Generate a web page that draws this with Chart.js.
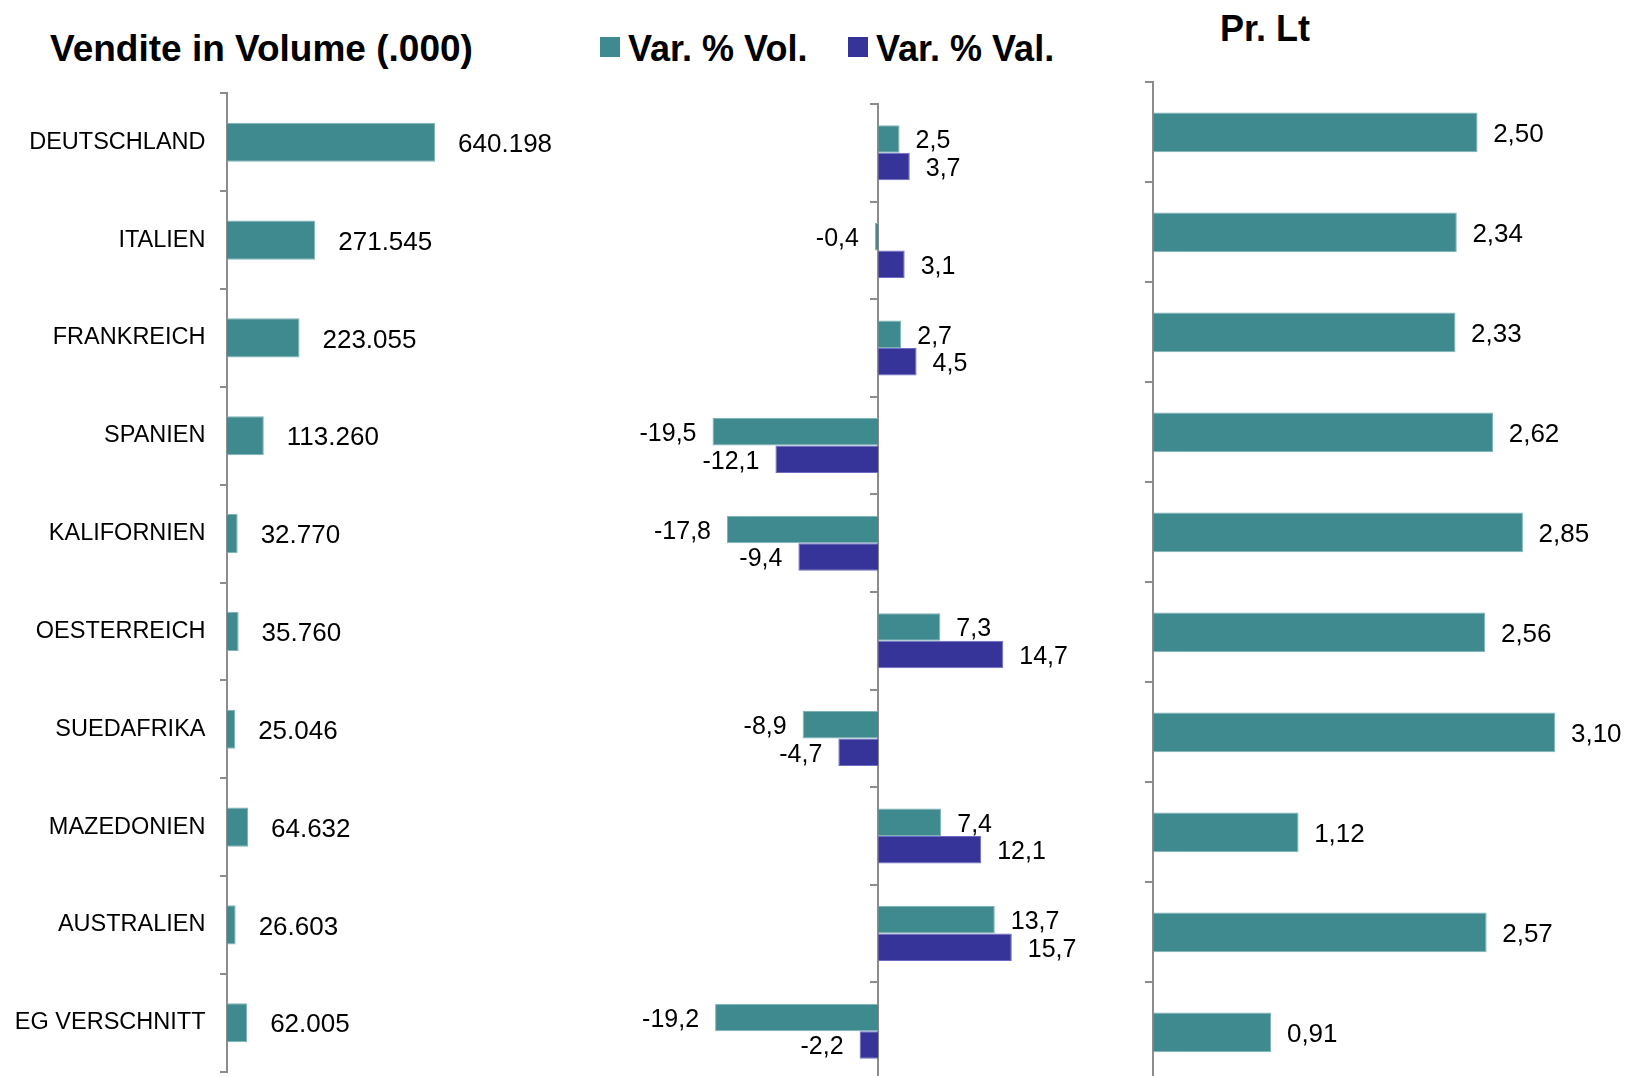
<!DOCTYPE html>
<html lang="it">
<head>
    <meta charset="UTF-8" />
    <title>Vendite in Volume</title>
    <style>
        body {
            margin: 0;
            width: 1625px;
            height: 1076px;
            overflow: hidden;
            position: relative;
            background: #fff;
            font-family: "Liberation Sans", Arial, sans-serif;
            color: #000;
        }
        canvas {
            position: absolute;
            top: 0;
        }
        .head {
            position: absolute;
            font-weight: bold;
            font-size: 36px;
            line-height: 36px;
            white-space: nowrap;
        }
        .swatch {
            position: absolute;
            width: 20px;
            height: 20px;
        }
    </style>
    <script src="https://cdn.jsdelivr.net/npm/chart.js"></script>
</head>
<body>
    <div class="head" style="left:50px; top:31px; font-size:37px;">Vendite in Volume (.000)</div>
    <div class="swatch" id="sw-vol" style="left:600px; top:37px;"></div>
    <div class="head" style="left:628px; top:31px;">Var. % Vol.</div>
    <div class="swatch" id="sw-val" style="left:848px; top:37px;"></div>
    <div class="head" style="left:876px; top:31px;">Var. % Val.</div>
    <div class="head" style="left:1220px; top:11px;">Pr. Lt</div>

    <canvas id="volume" width="620" height="1110" style="left:0px;"></canvas>
    <canvas id="variation" width="522" height="1090" style="left:568px;"></canvas>
    <canvas id="price" width="485" height="1090" style="left:1140px;"></canvas>

    <script>
        // data
        const countries = [
            "DEUTSCHLAND", "ITALIEN", "FRANKREICH", "SPANIEN", "KALIFORNIEN",
            "OESTERREICH", "SUEDAFRIKA", "MAZEDONIEN", "AUSTRALIEN", "EG VERSCHNITT"
        ];
        const volumes = [640198, 271545, 223055, 113260, 32770, 35760, 25046, 64632, 26603, 62005];
        const varVol = [2.5, -0.4, 2.7, -19.5, -17.8, 7.3, -8.9, 7.4, 13.7, -19.2];
        const varVal = [3.7, 3.1, 4.5, -12.1, -9.4, 14.7, -4.7, 12.1, 15.7, -2.2];
        const prLt = [2.50, 2.34, 2.33, 2.62, 2.85, 2.56, 3.10, 1.12, 2.57, 0.91];

        const teal = "#3e8a8f";
        const tealEdge = "#7fb4b7";
        const blue = "#363499";
        const blueEdge = "#6d6bc4";
        const axisGrey = "#8c8c8c";

        document.getElementById("sw-vol").style.background = teal;
        document.getElementById("sw-val").style.background = blue;

        const thousands = (v) => String(v).replace(/\B(?=(\d{3})+(?!\d))/g, ".");
        const decimals = (n) => (v) => v.toFixed(n).replace(".", ",");

        // draws the value next to the end of each bar
        function valueLabels(format, gap, font) {
            return {
                id: "valueLabels",
                afterDatasetsDraw(chart) {
                    const ctx = chart.ctx;
                    ctx.save();
                    ctx.font = font;
                    ctx.fillStyle = "#000";
                    ctx.textBaseline = "middle";
                    chart.data.datasets.forEach((ds, di) => {
                        chart.getDatasetMeta(di).data.forEach((bar, i) => {
                            const v = ds.data[i];
                            const y = bar.y + 2.5;
                            if (v >= 0) {
                                ctx.textAlign = "left";
                                ctx.fillText(format(v), bar.x + gap, y);
                            } else {
                                ctx.textAlign = "right";
                                ctx.fillText(format(v), bar.x - gap, y);
                            }
                        });
                    });
                    ctx.restore();
                },
            };
        }

        function categoryAxis(extra) {
            return Object.assign({
                type: "category",
                offset: true,
                grid: {
                    display: true,
                    drawOnChartArea: false,
                    drawTicks: true,
                    tickLength: 7,
                    color: axisGrey,
                    lineWidth: 2,
                    offset: true,
                },
                border: { display: true, color: axisGrey, width: 2 },
            }, extra);
        }

        Chart.defaults.font.family = "'Liberation Sans', Arial, sans-serif";
        Chart.defaults.color = "#000";

        const common = {
            indexAxis: "y",
            responsive: false,
            animation: false,
            plugins: { legend: { display: false }, tooltip: { enabled: false } },
        };

        // Vendite in Volume
        new Chart(document.getElementById("volume"), {
            type: "bar",
            data: {
                labels: countries,
                datasets: [{
                    label: "Vendite in Volume (.000)",
                    data: volumes,
                    backgroundColor: teal,
                    borderColor: tealEdge,
                    borderWidth: 1,
                    borderSkipped: "start",
                    barPercentage: 0.4,
                    categoryPercentage: 1,
                }],
            },
            options: Object.assign({}, common, {
                layout: { padding: { top: 93.3, bottom: 38.3, left: 0, right: 3 } },
                scales: {
                    x: { display: false, min: 0, max: 1200000 },
                    y: categoryAxis({
                        position: "left",
                        ticks: { padding: 14.5, font: { size: 23.5 }, color: "#000" },
                        afterFit: (scale) => { scale.width = 227; },
                    }),
                },
            }),
            plugins: [valueLabels(thousands, 23, "26px 'Liberation Sans', Arial, sans-serif")],
        });

        // Var. % Vol. / Var. % Val.
        new Chart(document.getElementById("variation"), {
            type: "bar",
            data: {
                labels: countries,
                datasets: [
                    {
                        label: "Var. % Vol.",
                        data: varVol,
                        backgroundColor: teal,
                        borderColor: tealEdge,
                        borderWidth: 1,
                        borderSkipped: "start",
                        barPercentage: 1,
                        categoryPercentage: 0.5635,
                    },
                    {
                        label: "Var. % Val.",
                        data: varVal,
                        backgroundColor: blue,
                        borderColor: blueEdge,
                        borderWidth: 1,
                        borderSkipped: "start",
                        barPercentage: 1,
                        categoryPercentage: 0.5635,
                    },
                ],
            },
            options: Object.assign({}, common, {
                layout: { padding: { top: 104, bottom: 10, left: 0, right: 0 } },
                scales: {
                    x: { display: false, min: -36.5, max: 24.9 },
                    y: categoryAxis({
                        position: { x: 0 },
                        ticks: { display: false },
                    }),
                },
            }),
            plugins: [valueLabels(decimals(1), 16, "25px 'Liberation Sans', Arial, sans-serif")],
        });

        // Pr. Lt
        new Chart(document.getElementById("price"), {
            type: "bar",
            data: {
                labels: countries,
                datasets: [{
                    label: "Pr. Lt",
                    data: prLt,
                    backgroundColor: teal,
                    borderColor: tealEdge,
                    borderWidth: 1,
                    borderSkipped: "start",
                    barPercentage: 0.397,
                    categoryPercentage: 1,
                }],
            },
            options: Object.assign({}, common, {
                layout: { padding: { top: 82.3, bottom: 7.7, left: 13.3, right: 0 } },
                scales: {
                    x: { display: false, min: 0, max: 3.637 },
                    y: categoryAxis({
                        position: { x: 0 },
                        ticks: { display: false },
                    }),
                },
            }),
            plugins: [valueLabels(decimals(2), 15.6, "26px 'Liberation Sans', Arial, sans-serif")],
        });
    </script>
</body>
</html>
